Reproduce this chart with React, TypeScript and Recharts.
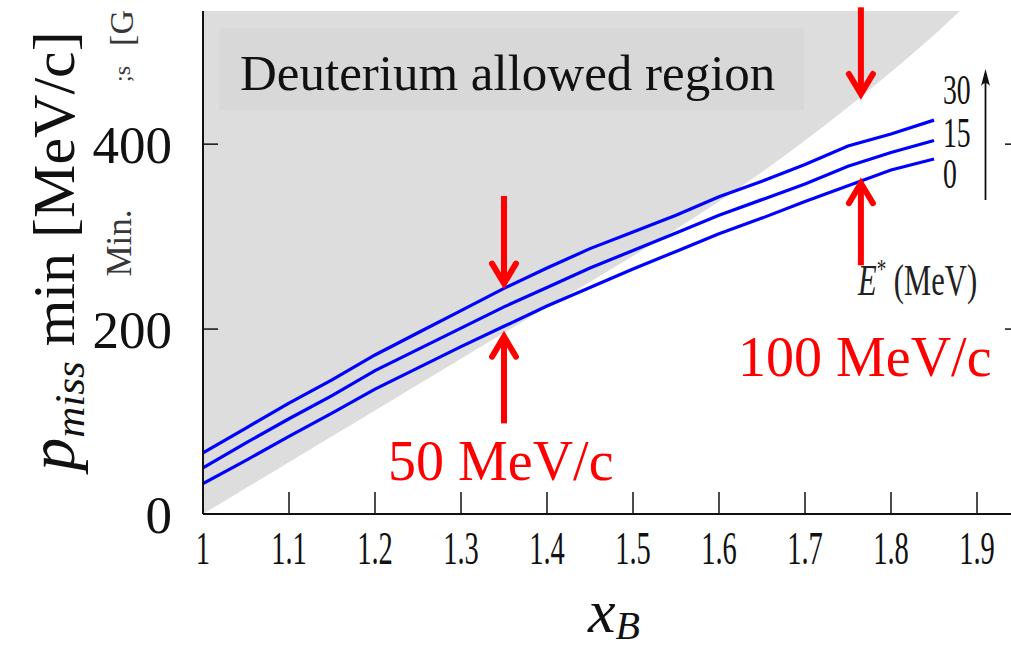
import React from 'react';
import {
  ComposedChart,
  Area,
  Line,
  XAxis,
  YAxis,
  ReferenceArea,
  ReferenceLine,
} from 'recharts';

// x_B sample points
const X_VALUES = [1.0, 1.05, 1.1, 1.15, 1.2, 1.25, 1.3, 1.35, 1.4, 1.45, 1.5, 1.55, 1.6, 1.65, 1.7, 1.75, 1.8, 1.85, 1.88];
// lower edge of the deuterium allowed region [MeV/c]
const BOUNDARY = [0, 28, 56, 84, 112, 140, 168, 196, 224, 251, 279, 308, 338, 370, 404, 440, 478, 518, 544];
// minimal p_miss for E* = 0, 15, 30 MeV
const E0 = [33, 58, 84, 109, 135, 158, 181, 203, 225, 245, 265, 284, 303, 320, 338, 355, 372, 384];
const E15 = [50, 77, 103, 128, 155, 178, 201, 224, 245, 266, 285, 304, 323, 340, 357, 376, 391, 404];
const E30 = [66, 93, 120, 145, 172, 196, 220, 244, 266, 287, 305, 323, 343, 360, 378, 398, 411, 426];

const X_TICKS = [1, 1.1, 1.2, 1.3, 1.4, 1.5, 1.6, 1.7, 1.8, 1.9];
const Y_TICKS = [0, 200, 400];
const Y_TOP = 544;

const data = X_VALUES.map((x, i) => ({
  x,
  band: [BOUNDARY[i], Y_TOP],
  e0: E0[i],
  e15: E15[i],
  e30: E30[i],
}));

const SERIF = '"Liberation Serif", "Times New Roman", serif';
const RED = '#ff0000';

const XTick = (props: any) => {
  const { x, y, payload } = props;
  const label = payload.value === 1 ? '1' : Number(payload.value).toFixed(1);
  return (
    <text
      transform={`translate(${x},${y + 30}) scale(0.62,1)`}
      textAnchor="middle"
      fontFamily={SERIF}
      fontSize={46}
      fill="#111"
    >
      {label}
    </text>
  );
};

const NoTick = () => <g />;

// red arrow drawn from the first to the second point of the segment
const arrow = (props: any) => {
  const { x1, y1, x2, y2 } = props;
  const dir = y2 > y1 ? 1 : -1;
  const tipY = y2 - dir * 3;
  return (
    <g>
      <line x1={x1} y1={y1} x2={x2} y2={tipY} stroke={RED} strokeWidth={6} />
      <polyline
        points={`${x2 - 12},${tipY - dir * 20} ${x2},${tipY} ${x2 + 12},${tipY - dir * 20}`}
        fill="none"
        stroke={RED}
        strokeWidth={6}
        strokeLinecap="round"
      />
    </g>
  );
};

export default function App() {
  return (
    <div style={{ position: 'absolute', left: 0, top: 0, width: 1011, height: 648, overflow: 'hidden', background: '#fff' }}>
      <ComposedChart
        width={1030}
        height={648}
        data={data}
        margin={{ top: 11, right: 0, bottom: 0, left: 0 }}
      >
        <XAxis
          dataKey="x"
          type="number"
          domain={[1, 1.95]}
          ticks={X_TICKS}
          height={134}
          tickSize={-22}
          tickMargin={42}
          tick={<XTick />}
          axisLine={{ stroke: '#111', strokeWidth: 2 }}
          tickLine={{ stroke: '#111', strokeWidth: 1.5 }}
          allowDataOverflow
        />
        <YAxis
          yAxisId="l"
          type="number"
          domain={[0, Y_TOP]}
          ticks={Y_TICKS}
          width={203}
          tickSize={-15}
          tickMargin={46}
          tick={{ fontFamily: SERIF, fontSize: 53, fill: '#111' }}
          axisLine={{ stroke: '#111', strokeWidth: 2 }}
          tickLine={{ stroke: '#111', strokeWidth: 1.5 }}
          allowDataOverflow
        />
        <YAxis
          yAxisId="r"
          orientation="right"
          type="number"
          domain={[0, Y_TOP]}
          ticks={Y_TICKS}
          width={10}
          tickSize={-15}
          tick={<NoTick />}
          axisLine={false}
          tickLine={{ stroke: '#111', strokeWidth: 1.5 }}
          allowDataOverflow
        />
        <Area
          yAxisId="l"
          type="monotone"
          dataKey="band"
          fill="#dddddd"
          fillOpacity={1}
          stroke="none"
          isAnimationActive={false}
        />
        <ReferenceArea
          yAxisId="l"
          x1={1.019}
          x2={1.699}
          y1={437}
          y2={525}
          fill="#d8d8d8"
          fillOpacity={1}
          stroke="none"
        />
        <Line yAxisId="l" type="linear" dataKey="e0" stroke="#0000ff" strokeWidth={3.2} dot={false} isAnimationActive={false} />
        <Line yAxisId="l" type="linear" dataKey="e15" stroke="#0000ff" strokeWidth={3.2} dot={false} isAnimationActive={false} />
        <Line yAxisId="l" type="linear" dataKey="e30" stroke="#0000ff" strokeWidth={3.2} dot={false} isAnimationActive={false} />
        <ReferenceLine yAxisId="l" segment={[{ x: 1.35, y: 344 }, { x: 1.35, y: 246 }]} ifOverflow="visible" shape={arrow} />
        <ReferenceLine yAxisId="l" segment={[{ x: 1.35, y: 98 }, { x: 1.35, y: 195 }]} ifOverflow="visible" shape={arrow} />
        <ReferenceLine yAxisId="l" segment={[{ x: 1.765, y: 548 }, { x: 1.765, y: 451 }]} ifOverflow="visible" shape={arrow} />
        <ReferenceLine yAxisId="l" segment={[{ x: 1.765, y: 269 }, { x: 1.765, y: 361 }]} ifOverflow="visible" shape={arrow} />
      </ComposedChart>

      <svg width={1030} height={648} style={{ position: 'absolute', left: 0, top: 0, pointerEvents: 'none' }}>
        <text x={240} y={90} fontFamily={SERIF} fontSize={51} fill="#111">Deuterium allowed region</text>
        <text x={388} y={480} fontFamily={SERIF} fontSize={56} fill={RED}>50 MeV/c</text>
        <text x={738} y={376} fontFamily={SERIF} fontSize={56} fill={RED}>100 MeV/c</text>

        <g fontFamily={SERIF} fontSize={42} fill="#111">
          <text transform="translate(943,104) scale(0.66,1)">30</text>
          <text transform="translate(943,147) scale(0.66,1)">15</text>
          <text transform="translate(943,188) scale(0.66,1)">0</text>
        </g>
        <line x1={985.5} y1={200} x2={985.5} y2={74} stroke="#111" strokeWidth={1.8} />
        <path d="M985.5,69 L981,86 Q985.5,80 990,86 Z" fill="#111" />
        <text transform="translate(858,295) scale(0.68,1)" fontFamily={SERIF} fontSize={45} fill="#222">
          <tspan fontStyle="italic">E</tspan>
          <tspan fontSize={28} dy={-17}>*</tspan>
          <tspan dy={17}>{'\u00a0(MeV)'}</tspan>
        </text>

        <g fontFamily={SERIF} fill="#222" opacity={0.9}>
          <text transform="translate(131,243) rotate(-90)" textAnchor="middle" fontSize={35}>Min.</text>
          <text transform="translate(130,74) rotate(-90)" textAnchor="middle" fontSize={24}>;s</text>
          <text transform="translate(133,28) rotate(-90)" textAnchor="middle" fontSize={34}>[G</text>
        </g>

        <text transform="translate(74,251) rotate(-90)" textAnchor="middle" fontFamily={SERIF} fontSize={60} fill="#111">
          <tspan fontStyle="italic" fontSize={66}>p</tspan>
          <tspan fontStyle="italic" fontSize={43} dy={10}>miss</tspan>
          <tspan dy={-10}> min [MeV/c]</tspan>
        </text>

        <text x={588} y={632} fontFamily={SERIF} fontSize={62} fontStyle="italic" fill="#111">
          x<tspan fontSize={40} dy={7}>B</tspan>
        </text>
      </svg>
    </div>
  );
}
